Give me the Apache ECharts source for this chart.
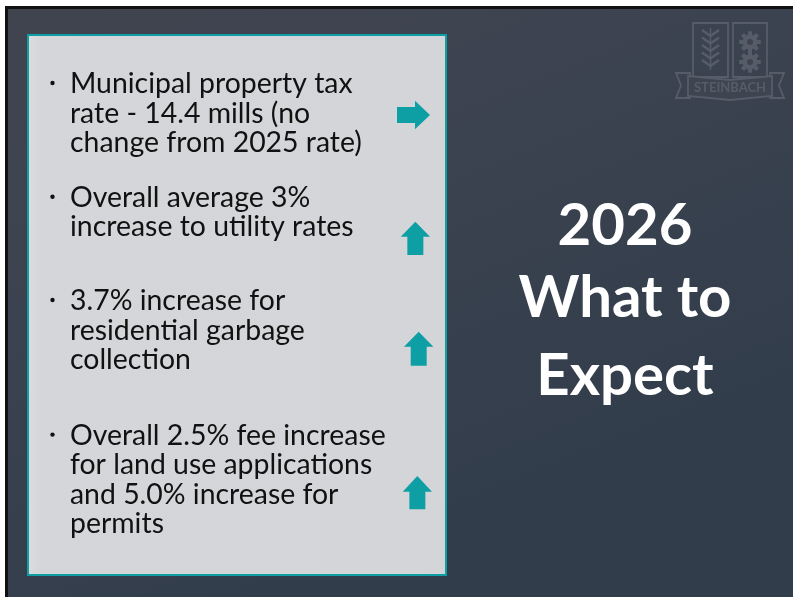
<!DOCTYPE html>
<html>
<head>
<meta charset="utf-8">
<script src="https://cdn.jsdelivr.net/npm/echarts@6/dist/echarts.min.js"></script>
<style>
  html, body { margin: 0; padding: 0; background: #fff; }
  #main { width: 793px; height: 597px; }
</style>
</head>
<body>
<div id="main"></div>
<script>
// slide content
var bulletLines = [
  ['Municipal property tax', 'rate - 14.4 mills (no', 'change from 2025 rate)'],
  ['Overall average 3%', 'increase to utility rates'],
  ['3.7% increase for', 'residential garbage', 'collection'],
  ['Overall 2.5% fee increase', 'for land use applications', 'and 5.0% increase for', 'permits']
]
var arrowDirs = ['right', 'up', 'up', 'up']
var titleLines = ['2026', 'What to', 'Expect']
var logoText = 'STEINBACH'

// layout (pixels)
var firstBaseline = [93, 206.7, 310, 444.6]
var lineGap = 29.4
var arrowBoxes = [
  { x0: 397, x1: 430, y0: 100.7, y1: 129.3, neck: 415, bw: 8 },
  { x0: 400.7, x1: 430, y0: 221.7, y1: 255, neck: 236.7, bw: 8 },
  { x0: 404, x1: 433.4, y0: 331.7, y1: 365.7, neck: 346.7, bw: 8 },
  { x0: 402.7, x1: 432, y0: 476, y1: 509.3, neck: 491.7, bw: 8 }
]
var titleBaselines = [245, 316.7, 395]

var teal = '#0e9fa5'
var bodyFont = 'Lato'
var logoColor = '#575d68'

// fit a font size so a sample line gets the width it has on the slide
function fitSize(text, weight, family, width) {
  var ctx = document.createElement('canvas').getContext('2d')
  ctx.font = weight + ' 100px ' + family
  return 100 * width / ctx.measureText(text).width
}

function build() {
  var bodySize = fitSize('change from 2025 rate)', 'normal', bodyFont, 292)
  var titleSize = fitSize('What to', 'bold', bodyFont, 213)
  var els = []

  // frame and slide background
  els.push({ type: 'rect', shape: { x: 5, y: 6, width: 788, height: 591 }, style: { fill: '#111' } })
  els.push({
    type: 'rect', shape: { x: 8, y: 9, width: 785, height: 588 },
    style: {
      fill: new echarts.graphic.LinearGradient(0, 0, 0.3, 1, [
        { offset: 0, color: '#40444f' },
        { offset: 0.45, color: '#3c4350' },
        { offset: 1, color: '#323d4b' }
      ])
    }
  })

  // text box
  els.push({
    type: 'rect', shape: { x: 28, y: 35, width: 418, height: 540 },
    style: {
      fill: new echarts.graphic.LinearGradient(0, 0, 1, 0, [
        { offset: 0, color: '#dcdde0' },
        { offset: 0.03, color: '#d5d6d9' },
        { offset: 1, color: '#d4d5d8' }
      ]),
      stroke: teal, lineWidth: 2
    }
  })

  // bullets
  bulletLines.forEach(function (lines, i) {
    var base = firstBaseline[i]
    els.push({ type: 'circle', shape: { cx: 52.5, cy: base - 10, r: 2.2 }, style: { fill: '#111' } })
    lines.forEach(function (line, j) {
      els.push({
        type: 'text', x: 70, y: base + j * lineGap + 5,
        style: {
          text: line, fill: '#111', font: 'normal ' + bodySize.toFixed(2) + 'px ' + bodyFont,
          textAlign: 'left', textVerticalAlign: 'bottom'
        }
      })
    })
  })

  // arrows
  arrowDirs.forEach(function (dir, i) {
    var b = arrowBoxes[i]
    var pts
    if (dir === 'right') {
      var cy = (b.y0 + b.y1) / 2
      pts = [[b.x0, cy - b.bw], [b.neck, cy - b.bw], [b.neck, b.y0], [b.x1, cy],
        [b.neck, b.y1], [b.neck, cy + b.bw], [b.x0, cy + b.bw]]
    } else {
      var cx = (b.x0 + b.x1) / 2
      pts = [[cx, b.y0], [b.x1, b.neck], [cx + b.bw, b.neck], [cx + b.bw, b.y1],
        [cx - b.bw, b.y1], [cx - b.bw, b.neck], [b.x0, b.neck]]
    }
    els.push({ type: 'polygon', shape: { points: pts }, style: { fill: teal } })
  })

  // title
  titleLines.forEach(function (line, i) {
    els.push({
      type: 'text', x: 625, y: titleBaselines[i] - 47.5,
      style: {
        text: line, fill: '#fff', font: 'bold ' + titleSize.toFixed(2) + 'px ' + bodyFont,
        textAlign: 'center', textVerticalAlign: 'top'
      }
    })
  })

  // faint crest, top right
  var st = { fill: 'none', stroke: logoColor, lineWidth: 1.8 }
  els.push({ type: 'rect', shape: { x: 693, y: 23, width: 35, height: 54 }, style: st })
  els.push({ type: 'rect', shape: { x: 733, y: 23, width: 34, height: 54 }, style: st })
  for (var k = 0; k < 5; k++) {
    var y = 30 + k * 7.5
    els.push({ type: 'polyline', shape: { points: [[702, y], [710.5, y + 6], [719, y]] }, style: { stroke: logoColor, lineWidth: 2.6 } })
  }
  els.push({ type: 'line', shape: { x1: 710.5, y1: 28, x2: 710.5, y2: 70 }, style: { stroke: logoColor, lineWidth: 1.5 } })
  ;[42, 62].forEach(function (gy) {
    for (var t = 0; t < 8; t++) {
      els.push({
        type: 'rect', x: 750, y: gy, rotation: t * Math.PI / 4,
        shape: { x: -2, y: -10.5, width: 4, height: 21 }, style: { fill: logoColor }
      })
    }
    els.push({ type: 'circle', shape: { cx: 750, cy: gy, r: 7.5 }, style: { fill: logoColor } })
    els.push({ type: 'circle', shape: { cx: 750, cy: gy, r: 3 }, style: { fill: '#3f4450' } })
  })
  els.push({
    type: 'polygon',
    shape: { points: [[676, 73], [690, 73], [690, 98], [676, 98], [681, 85.5]] },
    style: st
  })
  els.push({
    type: 'polygon',
    shape: { points: [[784, 73], [770, 73], [770, 98], [784, 98], [779, 85.5]] },
    style: st
  })
  els.push({
    type: 'polygon',
    shape: { points: [[688, 76], [730, 80], [772, 76], [772, 96], [730, 100], [688, 96]] },
    style: { fill: '#3f4550', stroke: logoColor, lineWidth: 1.8 }
  })
  els.push({
    type: 'text', x: 730, y: 88,
    style: { text: logoText, fill: logoColor, font: 'bold 13px ' + bodyFont, textAlign: 'center', textVerticalAlign: 'middle' }
  })

  var chart = echarts.init(document.getElementById('main'), null, { renderer: 'canvas' })
  chart.setOption({ animation: false, backgroundColor: '#fff', graphic: { elements: els } })
}

if (document.fonts && document.fonts.load) {
  Promise.all([
    document.fonts.load('normal 26px ' + bodyFont),
    document.fonts.load('bold 60px ' + bodyFont)
  ]).then(build, build)
} else {
  build()
}
</script>
</body>
</html>
